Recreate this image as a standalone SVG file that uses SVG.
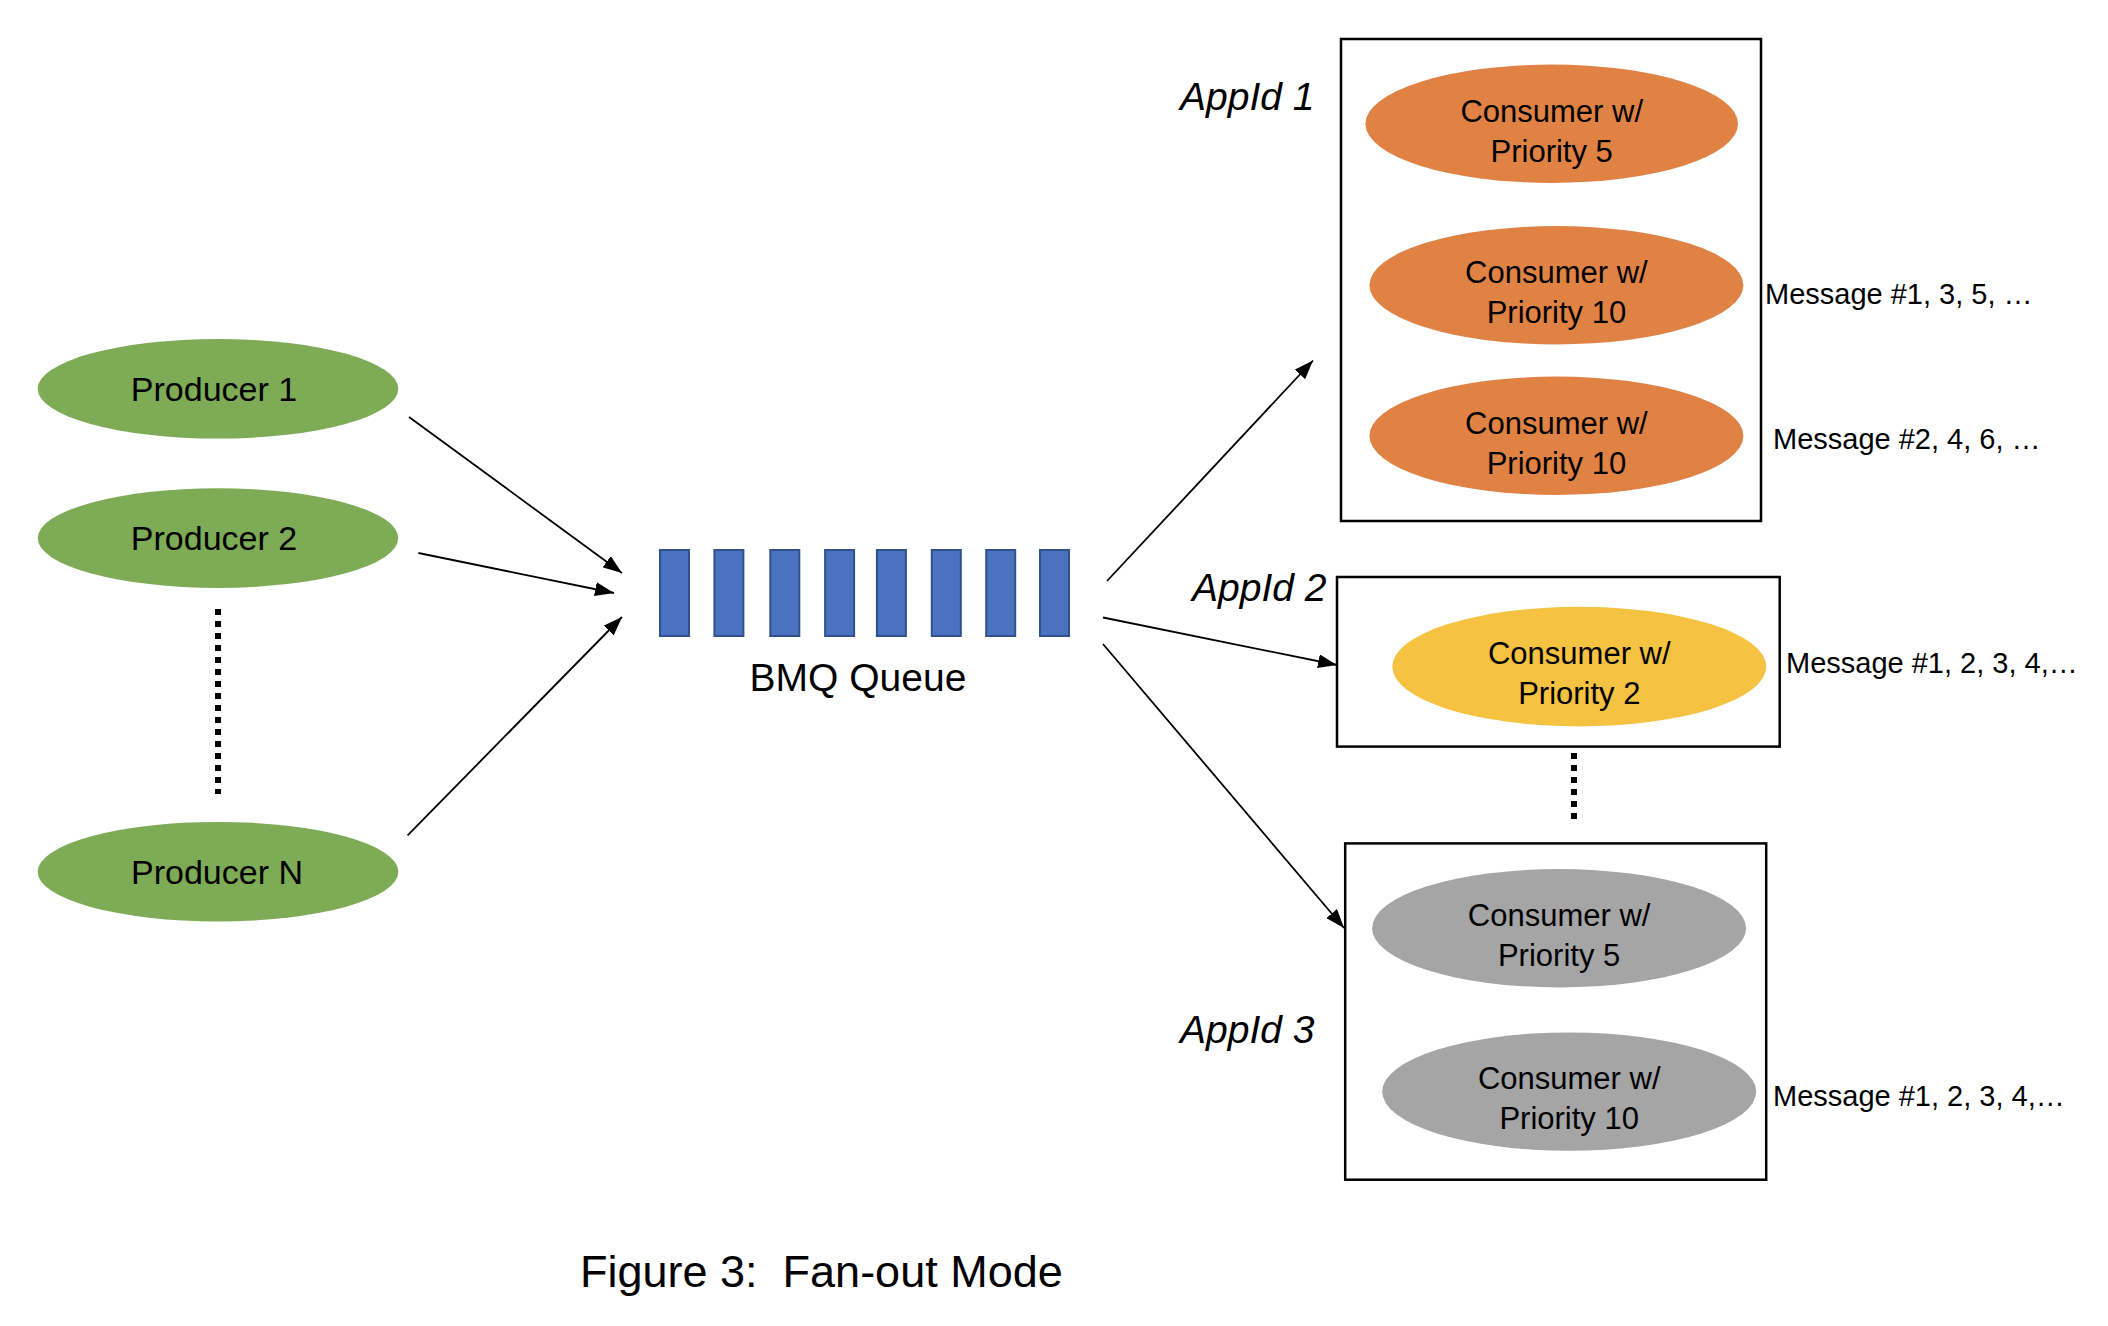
<svg xmlns="http://www.w3.org/2000/svg" width="2108" height="1326" viewBox="0 0 2108 1326">
<style>
.t{font-family:"Liberation Sans",Arial,sans-serif;fill:#000}
.prod{fill:#7EAB55}
.cons{fill:#E08244}
.yel{fill:#F5C242}
.gry{fill:#A5A5A5}
.q{fill:#4A72BE;stroke:#2F528F;stroke-width:2}
.box{fill:none;stroke:#000;stroke-width:2.5}
.ln{stroke:#000;stroke-width:1.8;fill:none}
.dot{stroke:#000;stroke-width:6;stroke-dasharray:6 6;fill:none}
.pl{font-size:34px;text-anchor:middle}
.cl{font-size:31px;text-anchor:middle}
.ml{font-size:29px}
.al{font-size:39px;font-style:italic}
</style>
<defs>
<marker id="ah" markerUnits="userSpaceOnUse" markerWidth="20" markerHeight="14" refX="19" refY="7" orient="auto">
<path d="M0,0 L19,7 L0,14 Z" fill="#000"/>
</marker>
</defs>
<rect width="2108" height="1326" fill="#fff"/>

<g id="producer1"><ellipse class="prod" cx="218" cy="388.8" rx="180.3" ry="49.8"/><text class="t pl" x="214" y="401">Producer 1</text></g>
<g id="producer2"><ellipse class="prod" cx="218" cy="538.1" rx="180.3" ry="49.8"/><text class="t pl" x="214" y="550">Producer 2</text></g>
<g id="producerN"><ellipse class="prod" cx="218" cy="871.7" rx="180.3" ry="49.8"/><text class="t pl" x="217" y="884">Producer N</text></g>
<g id="producer-dots"><line class="dot" x1="218" y1="609" x2="218" y2="794"/></g>

<g id="queue">
<rect class="q" x="660" y="550" width="29" height="86"/>
<rect class="q" x="714.4" y="550" width="29" height="86"/>
<rect class="q" x="770.3" y="550" width="29" height="86"/>
<rect class="q" x="825.1" y="550" width="29" height="86"/>
<rect class="q" x="876.9" y="550" width="29" height="86"/>
<rect class="q" x="931.8" y="550" width="29" height="86"/>
<rect class="q" x="986.2" y="550" width="29" height="86"/>
<rect class="q" x="1040" y="550" width="29" height="86"/>
<text class="t" x="858" y="691" font-size="39" text-anchor="middle">BMQ Queue</text>
</g>

<g id="appid1">
<rect class="box" x="1341" y="39" width="420" height="482"/>
<text class="t al" x="1180" y="110">AppId 1</text>
<ellipse class="cons" cx="1551.7" cy="123.8" rx="186.3" ry="59.2"/>
<text class="t cl" x="1551.7" y="122">Consumer w/</text><text class="t cl" x="1551.7" y="162">Priority 5</text>
<ellipse class="cons" cx="1556.4" cy="285.2" rx="187" ry="59.2"/>
<text class="t cl" x="1556.4" y="283">Consumer w/</text><text class="t cl" x="1556.4" y="323">Priority 10</text>
<ellipse class="cons" cx="1556.4" cy="435.8" rx="187" ry="59.2"/>
<text class="t cl" x="1556.4" y="434">Consumer w/</text><text class="t cl" x="1556.4" y="474">Priority 10</text>
<text class="t ml" x="1765" y="304">Message #1, 3, 5, …</text>
<text class="t ml" x="1773" y="449">Message #2, 4, 6, …</text>
</g>

<g id="appid2">
<rect class="box" x="1337" y="577" width="442.7" height="169.6"/>
<text class="t al" x="1192" y="601">AppId 2</text>
<ellipse class="yel" cx="1579.3" cy="666.6" rx="187" ry="59.8"/>
<text class="t cl" x="1579.3" y="664">Consumer w/</text><text class="t cl" x="1579.3" y="704">Priority 2</text>
<text class="t ml" x="1786" y="673">Message #1, 2, 3, 4,…</text>
</g>

<g id="app-dots"><line class="dot" x1="1574" y1="753" x2="1574" y2="821"/></g>

<g id="appid3">
<rect class="box" x="1345.2" y="843.4" width="421" height="336.3"/>
<text class="t al" x="1180" y="1042.5">AppId 3</text>
<ellipse class="gry" cx="1559.1" cy="928.2" rx="187" ry="59.2"/>
<text class="t cl" x="1559.1" y="926">Consumer w/</text><text class="t cl" x="1559.1" y="966">Priority 5</text>
<ellipse class="gry" cx="1569.2" cy="1091.6" rx="187" ry="59.2"/>
<text class="t cl" x="1569.2" y="1089">Consumer w/</text><text class="t cl" x="1569.2" y="1129">Priority 10</text>
<text class="t ml" x="1773" y="1106">Message #1, 2, 3, 4,…</text>
</g>

<g id="connectors">
<line class="ln" x1="409" y1="417" x2="622" y2="573" marker-end="url(#ah)"/>
<line class="ln" x1="418.4" y1="553" x2="614" y2="593" marker-end="url(#ah)"/>
<line class="ln" x1="407.6" y1="835.4" x2="622" y2="617" marker-end="url(#ah)"/>
<line class="ln" x1="1107" y1="581" x2="1313" y2="360.5" marker-end="url(#ah)"/>
<line class="ln" x1="1103" y1="617.5" x2="1337" y2="665" marker-end="url(#ah)"/>
<line class="ln" x1="1103" y1="644" x2="1344" y2="928" marker-end="url(#ah)"/>
</g>

<text class="t" x="580" y="1287" font-size="45" xml:space="preserve">Figure 3:  Fan-out Mode</text>
</svg>
